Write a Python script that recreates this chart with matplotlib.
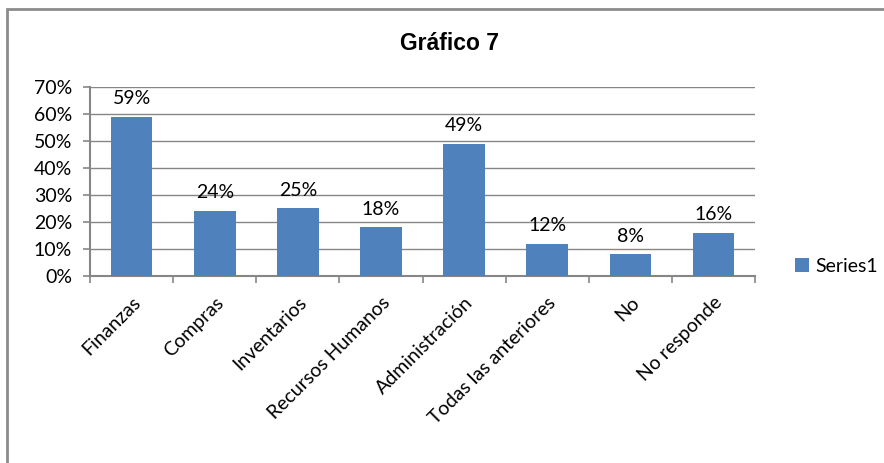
import matplotlib.pyplot as plt
from matplotlib.patches import Rectangle
from matplotlib.ticker import PercentFormatter

# datos del gráfico
categorias = ["Finanzas", "Compras", "Inventarios", "Recursos Humanos",
              "Administración", "Todas las anteriores", "No", "No responde"]
valores = [59, 24, 25, 18, 49, 12, 8, 16]
etiquetas = ["59%", "24%", "25%", "18%", "49%", "12%", "8%", "16%"]

azul = "#4F81BD"
gris = "#868686"
tam = 14

plt.rcParams['font.family'] = ['Lato', 'DejaVu Sans']

fig = plt.figure(figsize=(8.84, 4.63), dpi=100)
ax = fig.add_axes([0.102, 0.404, 0.752, 0.408])

x = range(len(categorias))
barras = ax.bar(x, valores, width=0.5, color=azul, label="Series1", zorder=3)

# etiquetas de valor encima de cada barra
for b, txt in zip(barras, etiquetas):
    ax.annotate(txt, (b.get_x() + b.get_width() / 2, b.get_height()),
                xytext=(0, 7), textcoords="offset points",
                ha="center", va="bottom", fontsize=tam)

ax.set_xlim(-0.5, len(categorias) - 0.5)
ax.set_ylim(0, 70)
ax.set_yticks(range(0, 71, 10))
ax.yaxis.set_major_formatter(PercentFormatter(decimals=0))
ax.grid(axis="y", color=gris, linewidth=1, zorder=0)

# marcas del eje x entre categorías
ax.set_xticks([i - 0.5 for i in range(len(categorias) + 1)])
ax.set_xticklabels([])
ax.set_xticks(list(x), minor=True)
ax.set_xticklabels(categorias, minor=True, rotation=45, ha="right",
                   rotation_mode="anchor", fontsize=tam)
ax.tick_params(axis="x", which="minor", length=0, pad=13)
ax.tick_params(axis="x", which="major", length=5, color=gris, width=1.2)
ax.tick_params(axis="y", length=5, color=gris, width=1.2, labelsize=tam, pad=8)

for lado in ["top", "right"]:
    ax.spines[lado].set_visible(False)
for lado in ["left", "bottom"]:
    ax.spines[lado].set_color(gris)
    ax.spines[lado].set_linewidth(1.5)

fig.text(0.508, 0.905, "Gráfico 7", ha="center", va="center",
         fontsize=16.5, fontweight="bold", family="Liberation Sans")

fig.legend(handles=[barras], labels=["Series1"], loc="center left",
           bbox_to_anchor=(0.88, 0.425), frameon=False, fontsize=tam,
           handlelength=0.7, handleheight=0.7, handletextpad=0.3)

# marco exterior del gráfico
fig.patches.append(Rectangle((7 / 884, -0.1), 1.1, 1.1 - 9 / 463,
                             transform=fig.transFigure, fill=False,
                             edgecolor="#8c8c8c", linewidth=2))

fig.savefig("out.png", dpi=100)
